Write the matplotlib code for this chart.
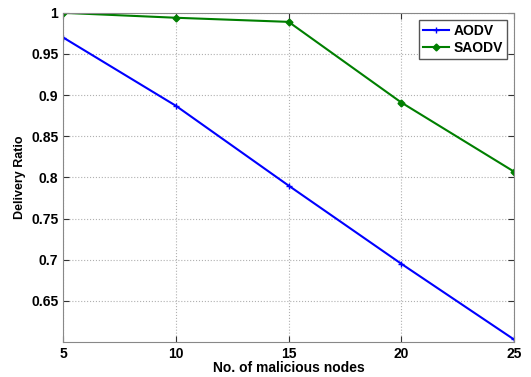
import matplotlib.pyplot as plt

nodes = [5, 10, 15, 20, 25]
aodv = [0.970, 0.887, 0.790, 0.695, 0.603]
saodv = [1.000, 0.994, 0.989, 0.891, 0.807]
yticks = [0.65, 0.7, 0.75, 0.8, 0.85, 0.9, 0.95, 1]

plt.rcParams['font.family'] = ['Liberation Sans', 'DejaVu Sans']
plt.rcParams['font.weight'] = 'bold'

fig = plt.figure(figsize=(5.31, 3.77), dpi=100)
ax = fig.add_axes([0.119, 0.093, 0.849, 0.873])

ax.plot(nodes, aodv, color='blue', marker='+', markersize=5, linewidth=1.5, label='AODV')
ax.plot(nodes, saodv, color='#007f00', marker='D', markersize=3.5, linewidth=1.5, label='SAODV')

ax.set_xlim(5, 25)
ax.set_ylim(0.6, 1.0)
ax.set_xticks(nodes)
ax.set_yticks(yticks)
ax.set_yticklabels(['0.65', '0.7', '0.75', '0.8', '0.85', '0.9', '0.95', '1'])
ax.grid(True, linestyle=':', color='#b0b0b0', linewidth=0.8)
ax.tick_params(direction='in', top=True, right=True, labelsize=10, length=4, colors='#333333')
for lab in ax.get_xticklabels() + ax.get_yticklabels():
    lab.set_color('black')
    lab.set_fontweight('bold')
for s in ax.spines.values():
    s.set_color('#888888')

ax.set_xlabel('No. of malicious nodes', fontsize=10, fontweight='bold', labelpad=0)
ax.set_ylabel('Delivery Ratio', fontsize=9, fontweight='bold')

leg = ax.legend(loc='upper right', fontsize=10, fancybox=False, framealpha=1,
                edgecolor='#555555', handlelength=1.9, handletextpad=0.3,
                borderpad=0.3, labelspacing=0.2, borderaxespad=0.5)
for t in leg.get_texts():
    t.set_fontweight('bold')

fig.savefig('out.png', dpi=100)
